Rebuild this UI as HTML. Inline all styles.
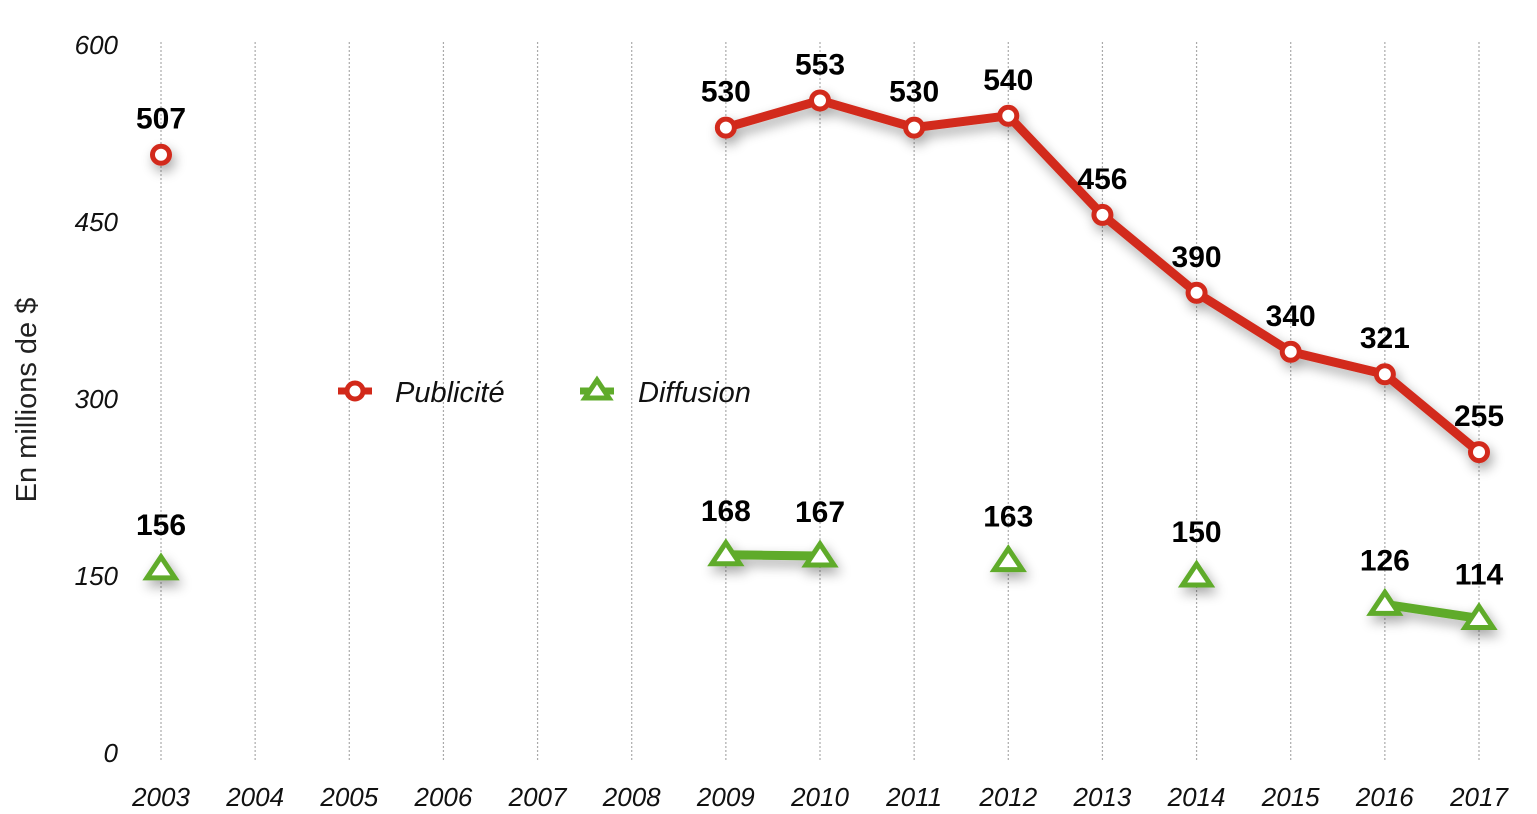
<!DOCTYPE html>
<html><head><meta charset="utf-8"><style>
html,body{margin:0;padding:0;background:#fff;}
svg{display:block;font-family:"Liberation Sans",sans-serif;}
</style></head><body>
<svg id="chart" width="1537" height="814">
<defs>
<filter id="sh" x="-20%" y="-20%" width="140%" height="160%"><feGaussianBlur in="SourceAlpha" stdDeviation="6"/><feOffset dx="3" dy="6"/><feComponentTransfer><feFuncA type="linear" slope="0.35"/></feComponentTransfer><feMerge><feMergeNode/><feMergeNode in="SourceGraphic"/></feMerge></filter>
</defs>
<g id="grid"></g>
<g id="series"></g>
<text transform="translate(36,400) rotate(-90)" text-anchor="middle" font-size="29" fill="#222">En millions de $</text>
<g>
<g>
<line x1="338" y1="391" x2="372" y2="391" stroke="#d2291a" stroke-width="7"/>
<circle cx="355" cy="391" r="8" fill="#fff" stroke="#d2291a" stroke-width="5"/>
<text x="395" y="402" font-size="29" font-style="italic" fill="#111">Publicité</text>
</g>
<g>
<line x1="580" y1="391" x2="614" y2="391" stroke="#5fab2b" stroke-width="7"/>
<polygon points="597,380 609,398 585,398" fill="#fff" stroke="#5fab2b" stroke-width="5"/>
<text x="638" y="402" font-size="29" font-style="italic" fill="#111">Diffusion</text>
</g>
</g>
</svg>
<script>
const years=[2003,2004,2005,2006,2007,2008,2009,2010,2011,2012,2013,2014,2015,2016,2017];
const pub=[507,null,null,null,null,null,530,553,530,540,456,390,340,321,255];
const dif=[156,null,null,null,null,null,168,167,null,163,null,150,null,126,114];
const yTicks=[0,150,300,450,600];
const NS="http://www.w3.org/2000/svg";
const X=i=>161+i*(1479-161)/14;
const Y=v=>753-v*708/600;
function mk(t,a,p){const e=document.createElementNS(NS,t);for(const k in a)e.setAttribute(k,a[k]);p.appendChild(e);return e;}
const grid=document.getElementById('grid'),ser=document.getElementById('series');
years.forEach((yr,i)=>{
 const l=mk('line',{x1:X(i),x2:X(i),y1:42,y2:760,stroke:'#aaa','stroke-width':1.2,'stroke-dasharray':'2,2'},grid);
 
 const t=mk('text',{x:X(i),y:806,'text-anchor':'middle','font-size':26,'font-style':'italic',fill:'#111'},grid);
 t.textContent=yr;
});
yTicks.forEach(v=>{
 const t=mk('text',{x:118,y:Y(v)+9,'text-anchor':'end','font-size':26,'font-style':'italic',fill:'#111'},grid);
 t.textContent=v;
});
function draw(data,color,name,tri){
 const g=mk('g',{filter:'url(#sh)'},ser);
 
 for(let i=0;i<data.length-1;i++){if(data[i]!=null&&data[i+1]!=null){
  const l=mk('line',{x1:X(i),y1:Y(data[i]),x2:X(i+1),y2:Y(data[i+1]),stroke:color,'stroke-width':9,'stroke-linecap':'round'},g);
  }}
 data.forEach((v,i)=>{if(v==null)return;const x=X(i),y=Y(v);let m;
  if(tri)m=mk('polygon',{points:`${x},${y-12} ${x+14},${y+9} ${x-14},${y+9}`,fill:'#fff',stroke:color,'stroke-width':5,'stroke-linejoin':'miter'},g);
  else m=mk('circle',{cx:x,cy:y,r:8.5,fill:'#fff',stroke:color,'stroke-width':5},g);
  
  const t=mk('text',{x:x,y:y-(tri?34:26),'text-anchor':'middle','font-size':30,'font-weight':'bold',fill:'#000'},ser);
  t.textContent=v;
 });
}
draw(pub,'#d2291a','publicite',false);
draw(dif,'#5fab2b','diffusion',true);
</script>
</body></html>
